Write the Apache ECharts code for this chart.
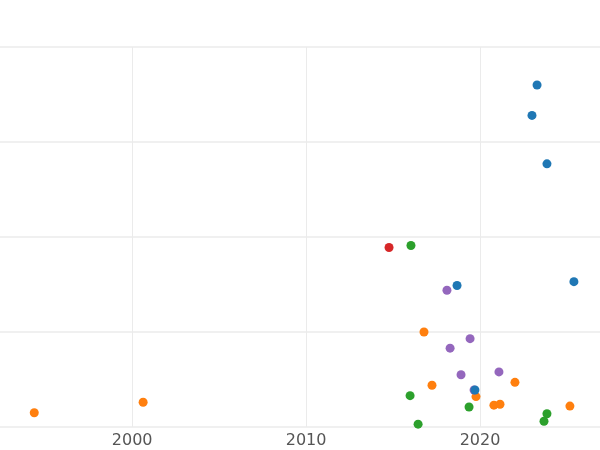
<!DOCTYPE html>
<html>
<head>
<meta charset="utf-8">
<script src="https://cdn.jsdelivr.net/npm/echarts@6/dist/echarts.min.js"></script>
<style>html,body{margin:0;padding:0;background:#fff}#chart{width:600px;height:450px}</style>
</head>
<body>
<div id="chart"></div>
<script>
var blue = [[2023.28,3.6],[2022.99,3.28],[2023.85,2.77],[2025.40,1.53],[2018.68,1.49],[2019.71,0.39]];
var red = [[2014.77,1.89]];
var green = [[2016.03,1.91],[2015.98,0.33],[2016.44,0.03],[2019.37,0.21],[2023.85,0.14],[2023.68,0.06]];
var purple = [[2018.10,1.44],[2019.43,0.93],[2018.28,0.83],[2018.91,0.55],[2021.09,0.58],[2019.66,0.39]];
var orange = [[1994.37,0.15],[2000.63,0.26],[2016.78,1.0],[2017.24,0.44],[2019.77,0.32],[2022.01,0.47],[2020.80,0.23],[2021.15,0.24],[2025.17,0.22]];
var xTicks = [2000, 2010, 2020];

var chart = echarts.init(document.getElementById('chart'));
function s(data, color) {
    return {type: 'scatter', data: data, symbolSize: 9, itemStyle: {color: color, opacity: 1}};
}
chart.setOption({
    animation: false,
    grid: {left: 0, right: 0, top: 47, bottom: 23, containLabel: false, outerBoundsMode: 'none'},
    xAxis: {
        type: 'value', min: 1992.4, max: 2026.9,
        axisLine: {show: false},
        axisTick: {show: false, customValues: xTicks},
        axisLabel: {color: '#555', fontSize: 16, margin: 6, fontFamily: 'DejaVu Sans',
            customValues: xTicks, formatter: function (v) { return String(v); }},
        splitLine: {lineStyle: {color: '#ebebeb', width: 1}}
    },
    yAxis: {
        type: 'value', min: 0, max: 4, interval: 1,
        axisLine: {show: false}, axisTick: {show: false}, axisLabel: {show: false},
        splitLine: {lineStyle: {color: '#ebebeb', width: 1.5}}
    },
    series: [s(orange, '#ff7f0e'), s(purple, '#9467bd'), s(blue, '#1f77b4'), s(green, '#2ca02c'), s(red, '#d62728')]
});
</script>
</body>
</html>
